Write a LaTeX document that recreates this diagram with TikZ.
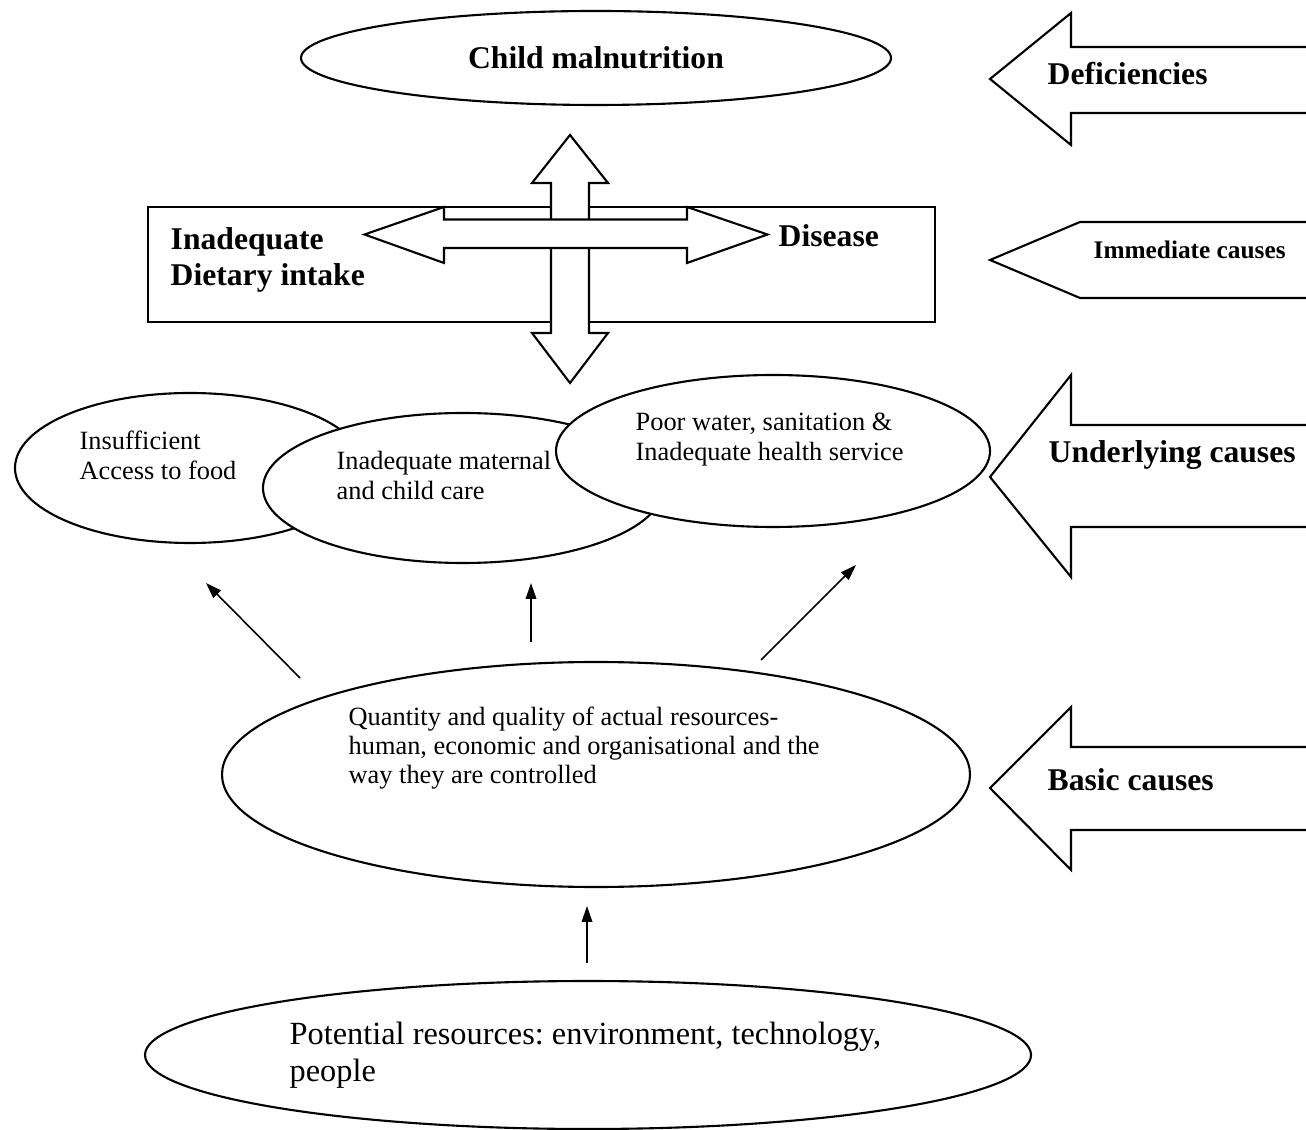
\documentclass[tikz,border=0pt]{standalone}
\usepackage{fontspec}
\setmainfont{Liberation Serif}
\usetikzlibrary{shapes.geometric,arrows.meta}
\frenchspacing
\begin{document}
\begin{tikzpicture}[
  oval/.style={draw, ellipse, fill=white, line width=0.6pt, inner sep=0pt},
  blockarrow/.style={draw, fill=white, line width=0.6pt, line join=miter},
  heading/.style={font=\fontsize{9}{10.3}\selectfont\bfseries, inner sep=0pt, align=left},
  causetxt/.style={font=\fontsize{7.5}{8.5}\selectfont, inner sep=0pt, align=left},
  link/.style={-{Triangle[length=4.5pt,width=3pt]}, line width=0.45pt}]
  \useasboundingbox (0,0) rectangle (13.06,-11.30);
  \node[oval, heading, minimum width=5.90cm, minimum height=0.94cm] (mal) at (5.96,-0.58) {Child malnutrition};
  \node[draw, line width=0.6pt, inner sep=0pt, minimum width=7.87cm, minimum height=1.15cm] (box) at (5.415,-2.645) {};
  \draw[blockarrow] (5.70,-1.35) -- (6.08,-1.83) -- (5.89,-1.83) -- (5.89,-3.33) -- (6.08,-3.33) -- (5.70,-3.83) -- (5.32,-3.33) -- (5.51,-3.33) -- (5.51,-1.83) -- (5.32,-1.83) -- cycle;
  \draw[blockarrow] (3.645,-2.345) -- (4.44,-2.07) -- (4.44,-2.195) -- (6.87,-2.195) -- (6.87,-2.07) -- (7.675,-2.345) -- (6.87,-2.63) -- (6.87,-2.48) -- (4.44,-2.48) -- (4.44,-2.63) -- cycle;
  \node[heading, anchor=north west] (diet) at (1.70,-2.27) {Inadequate\\Dietary intake};
  \node[heading, anchor=west] (disease) at (7.78,-2.36) {Disease};
  \draw[blockarrow] (13.06,-0.47) -- (10.71,-0.47) -- (10.71,-0.13) -- (9.90,-0.79) -- (10.71,-1.45) -- (10.71,-1.13) -- (13.06,-1.13);
  \draw[blockarrow] (13.06,-2.22) -- (10.80,-2.22) -- (9.90,-2.60) -- (10.80,-2.98) -- (13.06,-2.98);
  \draw[blockarrow] (13.06,-4.25) -- (10.71,-4.25) -- (10.71,-3.75) -- (9.90,-4.77) -- (10.71,-5.77) -- (10.71,-5.27) -- (13.06,-5.27);
  \draw[blockarrow] (13.06,-7.47) -- (10.71,-7.47) -- (10.71,-7.07) -- (9.90,-7.88) -- (10.71,-8.70) -- (10.71,-8.30) -- (13.06,-8.30);
  \node[heading, anchor=west] (deficiencies) at (10.47,-0.74) {Deficiencies};
  \node[heading, font=\fontsize{7.2}{8}\selectfont\bfseries, anchor=west] (immediate) at (10.93,-2.50) {Immediate causes};
  \node[heading, anchor=base west] (underlying) at (10.48,-4.625) {Underlying causes};
  \node[heading, anchor=west] (basic) at (10.47,-7.80) {Basic causes};
  \node[oval, minimum width=3.50cm, minimum height=1.50cm] (food) at (1.90,-4.68) {};
  \node[oval, minimum width=4.00cm, minimum height=1.50cm] (care) at (4.63,-4.88) {};
  \node[oval, minimum width=4.34cm, minimum height=1.52cm] (water) at (7.73,-4.51) {};
  \node[causetxt, anchor=north west] (foodtxt) at (0.79,-4.30) {Insufficient\\Access to food};
  \node[causetxt, anchor=north west] (caretxt) at (3.36,-4.51) {Inadequate maternal\\and child care};
  \node[causetxt, anchor=north west] (watertxt) at (6.35,-4.12) {Poor water, sanitation \&\\Inadequate health service};
  \node[oval, minimum width=7.48cm, minimum height=2.25cm] (res) at (5.96,-7.745) {};
  \node[causetxt, font=\fontsize{7.5}{8.25}\selectfont, anchor=north west] (restxt) at (3.48,-7.06) {Quantity and quality of actual resources-\\human, economic and organisational and the\\way they are controlled};
  \node[oval, minimum width=8.86cm, minimum height=1.48cm] (pot) at (5.88,-10.55) {};
  \node[causetxt, font=\fontsize{9.2}{10.5}\selectfont, anchor=north west] (pottxt) at (2.89,-10.21) {Potential resources: environment, technology,\\people};
  \coordinate (resL) at (3.00,-6.78);
  \coordinate (foodB) at (2.06,-5.83);
  \coordinate (resM) at (5.31,-6.42);
  \coordinate (careB) at (5.31,-5.83);
  \coordinate (resR) at (7.61,-6.60);
  \coordinate (waterB) at (8.56,-5.65);
  \coordinate (potT) at (5.87,-9.63);
  \coordinate (resB) at (5.87,-9.06);
  \draw[link] (resL) -- (foodB);
  \draw[link] (resM) -- (careB);
  \draw[link] (resR) -- (waterB);
  \draw[link] (potT) -- (resB);
\end{tikzpicture}
\end{document}
